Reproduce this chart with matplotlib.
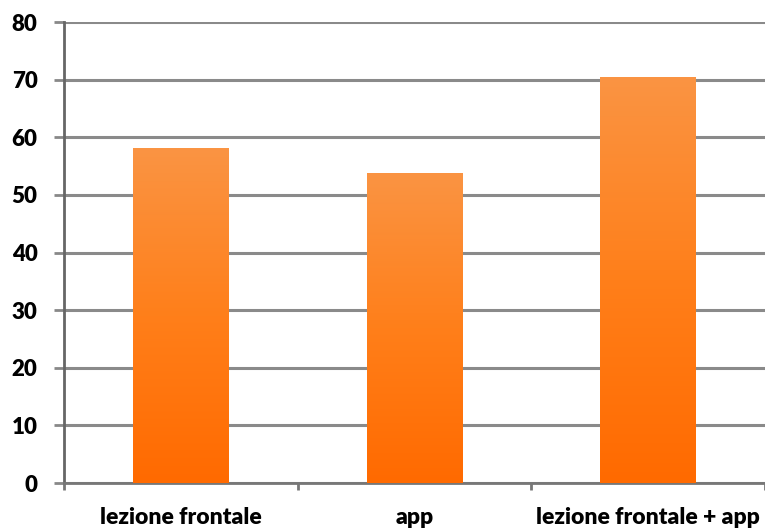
import numpy as np
import matplotlib.pyplot as plt
from matplotlib.colors import LinearSegmentedColormap

categories = ['lezione frontale', 'app', 'lezione frontale + app']
values = [58.1, 53.8, 70.5]
yticks = [0, 10, 20, 30, 40, 50, 60, 70, 80]

plt.rcParams['font.family'] = ['Lato', 'DejaVu Sans']

fig = plt.figure(figsize=(7.65, 5.32), dpi=100)
ax = fig.add_axes([64 / 765, 49 / 532, 1 - 64 / 765, (483 - 22) / 532])

x = np.arange(len(categories))
bars = ax.bar(x, values, width=0.41, color='#ff7a10', zorder=3)

# vertical gradient inside each bar
grad = LinearSegmentedColormap.from_list('org', ['#ff6a00', '#ff7f1a', '#fa9443'])
g = np.linspace(0, 1, 256).reshape(-1, 1)
for b in bars:
    bx, by = b.get_x(), b.get_y()
    w, h = b.get_width(), b.get_height()
    im = ax.imshow(g, cmap=grad, aspect='auto', origin='lower',
                   extent=[bx, bx + w, by, by + h], zorder=4)
    im.set_clip_path(b)

ax.set_xlim(-0.5, len(categories) - 0.5)
ax.set_ylim(0, 80)
ax.set_yticks(yticks)
ax.set_yticklabels([str(t) for t in yticks], fontsize=16, fontweight='heavy')
ax.yaxis.grid(True, color='#8a8a8a', linewidth=2.2, zorder=1)
ax.set_axisbelow(True)

ax.set_xticks(x)
ax.set_xticklabels(categories, fontsize=16.5, fontweight='heavy')
ax.set_xticks(np.arange(len(categories) + 1) - 0.5, minor=True)
ax.tick_params(axis='x', which='major', length=0, pad=17)
ax.tick_params(axis='x', which='minor', length=5, width=2, color='#777777')
ax.tick_params(axis='y', length=7, width=2, color='#888888', pad=12)

for s in ['top', 'right']:
    ax.spines[s].set_visible(False)
ax.spines['left'].set_color('#666666')
ax.spines['left'].set_linewidth(2)
ax.spines['bottom'].set_color('#777777')
ax.spines['bottom'].set_linewidth(2)

fig.savefig('out.png', dpi=100)
